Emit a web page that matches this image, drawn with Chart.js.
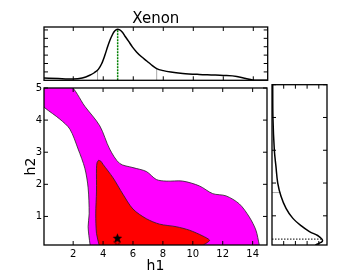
<!DOCTYPE html>
<html>
<head>
<meta charset="utf-8">
<script src="https://cdn.jsdelivr.net/npm/chart.js"></script>
<style>
  html, body { margin: 0; padding: 0; background: #fff; }
  #wrap { position: relative; width: 362px; height: 273px; overflow: hidden; }
  canvas { position: absolute; }
</style>
</head>
<body>
<div id="wrap">
  <canvas id="topChart" width="226" height="82" style="left:43px;top:0px"></canvas>
  <canvas id="mainChart" width="272" height="193" style="left:0px;top:80px"></canvas>
  <canvas id="sideChart" width="57" height="162" style="left:271px;top:84px"></canvas>
</div>
<script>
// axes
const h1Range = [0.05, 14.96];
const h2Range = [0.11, 5.0];
const h1Ticks = [2, 4, 6, 8, 10, 12, 14];
const h2Ticks = [1, 2, 3, 4, 5];
const topDensTicks = [1, 2, 3, 4, 5, 6];
const sideDensTicks = [1, 2, 3, 4];

// marginal of h1 (top panel)
const h1Grid = [0.05, 1.0, 2.0, 2.6, 3.1, 3.4, 3.67, 3.9, 4.1, 4.3, 4.45, 4.6, 4.71, 4.85, 4.96, 5.1, 5.29, 5.45, 5.67, 5.95, 6.23, 6.55, 6.9, 7.2, 7.56, 8.0, 8.5, 9.3, 10.4, 11.2, 12.0, 12.9, 13.5, 13.95, 14.96];
const h1Dens = [0.28, 0.2, 0.14, 0.27, 0.6, 0.9, 1.3, 2.0, 2.95, 4.05, 4.8, 5.4, 5.75, 6.0, 6.07, 6.0, 5.7, 5.25, 4.7, 3.95, 3.35, 2.8, 2.3, 1.85, 1.4, 1.15, 0.98, 0.82, 0.7, 0.64, 0.58, 0.46, 0.22, 0.05, 0.0];
const h1LineX = [3.62, 7.56];     // grey interval lines
const h1LineTop = [1.22, 1.4];
const h1Best = 4.96;
const h1BestTop = 6.07;

// marginal of h2 (right panel, rotated)
const h2Grid = [5.0, 4.0, 3.0, 2.5, 2.0, 1.6, 1.23, 0.93, 0.7, 0.52, 0.4, 0.33, 0.27, 0.22, 0.19, 0.14, 0.11];
const h2Dens = [0.06, 0.08, 0.2, 0.34, 0.49, 0.77, 1.2, 1.77, 2.48, 3.2, 3.9, 4.15, 4.3, 4.3, 4.19, 3.9, 3.7];
const h2LineY = 1.71;
const h2LineLen = 0.7;
const h2Best = 0.29;
const h2BestLen = 4.25;

// 2D contours (outer = magenta, inner = red)
const outerH1 = [0, 1.72, 2.78, 3.78, 4.44, 5.11, 6.0, 6.89, 7.56, 8.22, 9.33, 10.44, 11.33, 12.22, 13.11, 13.78, 14.22, 14.44, 14.5, 3.2, 3.13, 3.0, 3.07, 3.0, 2.78, 2.33, 1.78, 1.11, 0.11, 0, 0];
const outerH2 = [5.1, 5.1, 4.43, 3.82, 3.10, 2.65, 2.52, 2.40, 2.15, 2.10, 2.10, 1.95, 1.71, 1.64, 1.39, 0.98, 0.57, 0.12, 0, 0, 0.12, 0.68, 1.08, 1.89, 2.50, 3.10, 3.72, 4.03, 4.38, 4.45, 5.1];
const innerH1 = [3.7, 3.6, 3.56, 3.56, 3.51, 3.56, 3.73, 3.78, 10.5, 10.7, 10.95, 11.12, 10.67, 9.78, 8.89, 7.78, 6.89, 6.0, 5.33, 4.67, 4.0, 3.85, 3.7];
const innerH2 = [2.75, 2.68, 2.50, 1.79, 1.08, 0.47, 0.12, 0, 0, 0.11, 0.18, 0.26, 0.39, 0.57, 0.68, 0.76, 0.93, 1.23, 1.69, 2.20, 2.62, 2.72, 2.75];

// markers
const markH1 = [4.96, 4.96];
const markH2 = [0.32, 0.18];

Chart.defaults.font.family = "'DejaVu Sans', sans-serif";
Chart.defaults.color = '#000';

const pts = (xs, ys) => xs.map((x, i) => ({ x: x, y: ys[i] }));

// frame + inward ticks on all four sides
const frameTicks = {
  id: 'frameTicks',
  afterDatasetsDraw(chart, args, opts) {
    const { ctx, chartArea: a, scales } = chart;
    const len = 4;
    ctx.save();
    ctx.strokeStyle = '#000';
    ctx.lineWidth = 1;
    ctx.beginPath();
    (opts.x || []).forEach(v => {
      const px = scales.x.getPixelForValue(v);
      ctx.moveTo(px, a.bottom); ctx.lineTo(px, a.bottom - len);
      ctx.moveTo(px, a.top); ctx.lineTo(px, a.top + len);
    });
    (opts.y || []).forEach(v => {
      const py = scales.y.getPixelForValue(v);
      ctx.moveTo(a.left, py); ctx.lineTo(a.left + len, py);
      ctx.moveTo(a.right, py); ctx.lineTo(a.right - len, py);
    });
    ctx.stroke();
    ctx.lineWidth = 1.3;
    ctx.strokeRect(a.left, a.top, a.right - a.left, a.bottom - a.top);
    ctx.restore();
  }
};

function starImg(size, filled) {
  const c = document.createElement('canvas');
  c.width = c.height = size;
  const g = c.getContext('2d');
  const r = size / 2 - 0.5, ri = r * 0.45;
  g.beginPath();
  for (let i = 0; i < 10; i++) {
    const rad = i % 2 ? ri : r;
    const ang = -Math.PI / 2 + i * Math.PI / 5;
    g.lineTo(size / 2 + rad * Math.cos(ang), size / 2 + rad * Math.sin(ang));
  }
  g.closePath();
  if (filled) { g.fillStyle = '#000'; g.fill(); }
  else { g.strokeStyle = '#400'; g.lineWidth = 1; g.stroke(); }
  return c;
}

const hidden = { display: false };
const noGrid = { display: false, drawTicks: false };

// main 2D panel
new Chart(document.getElementById('mainChart'), {
  type: 'scatter',
  data: {
    datasets: [
      { data: pts(markH1.slice(0, 1), markH2.slice(0, 1)), pointStyle: starImg(11, true), order: 0 },
      { data: pts(markH1.slice(1), markH2.slice(1)), pointStyle: starImg(8, false), order: 1 },
      { data: pts(innerH1, innerH2), showLine: true, fill: 'shape', backgroundColor: '#ff0000',
        borderColor: '#222', borderWidth: 0.8, pointRadius: 0, tension: 0.3, order: 2 },
      { data: pts(outerH1, outerH2), showLine: true, fill: 'shape', backgroundColor: '#ff00ff',
        borderColor: '#222', borderWidth: 0.8, pointRadius: 0, tension: 0.3, order: 3 }
    ]
  },
  options: {
    responsive: false,
    animation: false,
    layout: { padding: { top: 4.7, right: 4.3, left: 0, bottom: 0 } },
    plugins: {
      legend: hidden,
      tooltip: { enabled: false },
      frameTicks: { x: h1Ticks, y: h2Ticks }
    },
    scales: {
      x: {
        type: 'linear', min: h1Range[0], max: h1Range[1],
        afterBuildTicks: s => { s.ticks = h1Ticks.map(v => ({ value: v })); },
        afterFit: s => { s.height = 28; },
        grid: noGrid, border: hidden,
        ticks: { padding: 3, font: { size: 10 }, maxRotation: 0, autoSkip: false },
        title: { display: true, text: 'h1', font: { size: 14, lineHeight: 1 }, padding: { top: 0, bottom: 0 } }
      },
      y: {
        type: 'linear', min: h2Range[0], max: h2Range[1],
        afterBuildTicks: s => { s.ticks = h2Ticks.map(v => ({ value: v })); },
        afterFit: s => { s.width = 44; },
        grid: noGrid, border: hidden,
        ticks: { padding: 2, font: { size: 10 }, autoSkip: false },
        title: { display: true, text: 'h2', font: { size: 14, lineHeight: 1 }, padding: { top: 24, bottom: 0 } }
      }
    }
  },
  plugins: [frameTicks]
});

// top marginal (h1)
new Chart(document.getElementById('topChart'), {
  type: 'scatter',
  data: {
    datasets: [
      { data: pts(h1Grid, h1Dens), showLine: true, borderColor: '#000', borderWidth: 1.5,
        pointRadius: 0, cubicInterpolationMode: 'monotone', order: 0 },
      { data: [{ x: h1Best, y: 0 }, { x: h1Best, y: h1BestTop }], showLine: true, borderColor: '#008000',
        borderWidth: 1.5, borderDash: [2, 1], pointRadius: 0, order: 1 },
      { data: [{ x: h1LineX[0], y: 0 }, { x: h1LineX[0], y: h1LineTop[0] }], showLine: true,
        borderColor: '#aaa', borderWidth: 1, pointRadius: 0, order: 2 },
      { data: [{ x: h1LineX[1], y: 0 }, { x: h1LineX[1], y: h1LineTop[1] }], showLine: true,
        borderColor: '#aaa', borderWidth: 1, pointRadius: 0, order: 2 }
    ]
  },
  options: {
    responsive: false,
    animation: false,
    layout: { padding: { top: 0, right: 1.3, left: 1, bottom: 1.7 } },
    plugins: {
      legend: hidden,
      tooltip: { enabled: false },
      title: { display: true, text: 'Xenon', font: { size: 15, weight: 'normal', lineHeight: 1 }, padding: { top: 12, bottom: 0 } },
      frameTicks: { x: h1Ticks, y: topDensTicks }
    },
    scales: {
      x: { type: 'linear', min: h1Range[0], max: h1Range[1], display: false },
      y: { type: 'linear', min: 0, max: 6.35, display: false }
    }
  },
  plugins: [frameTicks]
});

// right marginal (h2, rotated)
new Chart(document.getElementById('sideChart'), {
  type: 'scatter',
  data: {
    datasets: [
      { data: pts(h2Dens, h2Grid), showLine: true, borderColor: '#000', borderWidth: 1.5,
        pointRadius: 0, tension: 0.35, order: 0 },
      { data: [{ x: 0, y: h2Best }, { x: h2BestLen, y: h2Best }], showLine: true, borderColor: '#000',
        borderWidth: 1, borderDash: [1.5, 1.5], pointRadius: 0, order: 1 },
      { data: [{ x: 0, y: h2LineY }, { x: h2LineLen, y: h2LineY }], showLine: true,
        borderColor: '#aaa', borderWidth: 1, pointRadius: 0, order: 2 }
    ]
  },
  options: {
    responsive: false,
    animation: false,
    layout: { padding: { top: 0.7, right: 1, left: 1, bottom: 1 } },
    plugins: {
      legend: hidden,
      tooltip: { enabled: false },
      frameTicks: { x: sideDensTicks, y: h2Ticks }
    },
    scales: {
      x: { type: 'linear', min: 0, max: 4.7, display: false },
      y: { type: 'linear', min: h2Range[0], max: h2Range[1], display: false }
    }
  },
  plugins: [frameTicks]
});
</script>
</body>
</html>
